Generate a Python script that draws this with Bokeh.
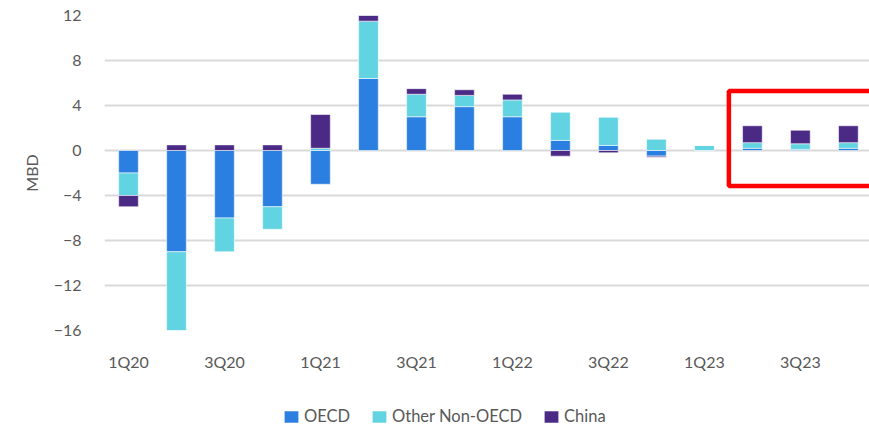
import numpy as np
from bokeh.plotting import figure
from bokeh.layouts import column
from bokeh.models import (ColumnDataSource, FixedTicker, Range1d, Legend, LegendItem,
                          BoxAnnotation)
from bokeh.embed import file_html
from bokeh.resources import INLINE

# ---- data (MBD, quarterly change) ----
quarters = ["1Q20", "2Q20", "3Q20", "4Q20", "1Q21", "2Q21", "3Q21", "4Q21",
            "1Q22", "2Q22", "3Q22", "4Q22", "1Q23", "2Q23", "3Q23", "4Q23"]
oecd = [-2.0, -9.0, -6.0, -5.0, -3.0, 6.4, 3.0, 3.9, 3.0, 0.9, 0.45, -0.5, 0.0, 0.2, 0.1, 0.2]
other_non_oecd = [-2.0, -7.0, -3.0, -2.0, 0.2, 5.1, 2.0, 1.0, 1.5, 2.5, 2.5, 1.0, 0.45, 0.5, 0.5, 0.5]
china = [-1.0, 0.5, 0.5, 0.5, 3.0, 0.5, 0.5, 0.5, 0.5, -0.5, -0.2, -0.1, 0.0, 1.5, 1.2, 1.5]
series_names = ["OECD", "Other Non-OECD", "China"]
series_colors = ["#2B7FE0", "#62D3E0", "#4B2A86"]
y_ticks = [-16, -12, -8, -4, 0, 4, 8, 12]
label_every = 2

# highlight box (data units)
hl_left, hl_right, hl_top, hl_bottom = 12.51, 16.5, 5.29, -3.16

FONT = "Lato"
GRAY = "#595959"

x = np.arange(len(quarters))
p = figure(width=869, height=395, output_backend="svg", toolbar_location=None,
           x_range=Range1d(-0.5, 15.44), y_range=Range1d(-16, 12),
           min_border_left=104, min_border_right=0, min_border_top=15, min_border_bottom=65)
p.outline_line_color = None
p.background_fill_color = "white"
p.border_fill_color = "white"

pos_base = np.zeros(len(x))
neg_base = np.zeros(len(x))
for name, vals, col in zip(series_names, [oecd, other_non_oecd, china], series_colors):
    v = np.array(vals, dtype=float)
    bottom = np.where(v >= 0, pos_base, neg_base)
    top = bottom + v
    pos_base = pos_base + np.clip(v, 0, None)
    neg_base = neg_base + np.clip(v, None, 0)
    src = ColumnDataSource(dict(x=x, bottom=bottom, top=top))
    p.vbar(x="x", bottom="bottom", top="top", width=0.41, source=src,
           fill_color=col, line_color="white", line_alpha=0.55, line_width=1)

# axes
p.xaxis.ticker = FixedTicker(ticks=list(x[::label_every]))
p.xaxis.major_label_overrides = {int(i): quarters[i] for i in x[::label_every]}
p.yaxis.ticker = FixedTicker(ticks=y_ticks)
for ax in (p.xaxis, p.yaxis):
    ax.axis_line_color = None
    ax.major_tick_line_color = None
    ax.minor_tick_line_color = None
    ax.major_tick_out = 0
    ax.major_tick_in = 0
    ax.major_label_text_font = FONT
    ax.major_label_text_font_size = "16px"
    ax.major_label_text_color = GRAY
p.xaxis.major_label_standoff = 21
p.yaxis.major_label_standoff = 23
p.yaxis.axis_label = "MBD"
p.yaxis.axis_label_text_font = FONT
p.yaxis.axis_label_text_font_size = "16px"
p.yaxis.axis_label_text_font_style = "normal"
p.yaxis.axis_label_text_color = GRAY
p.yaxis.axis_label_standoff = 10

p.xgrid.grid_line_color = None
p.ygrid.grid_line_color = "#D9D9D9"
p.ygrid.grid_line_width = 2

box = BoxAnnotation(left=hl_left, right=hl_right, top=hl_top, bottom=hl_bottom,
                    fill_alpha=0, line_color="#FF0000", line_alpha=1, line_width=4.5)
p.add_layout(box)

# ---- legend strip below the chart (proxy glyphs kept outside its visible range) ----
pl = figure(width=869, height=32, output_backend="svg", toolbar_location=None,
            x_axis_location=None, y_axis_location=None,
            x_range=Range1d(0, 1), y_range=Range1d(0, 1), min_border=0)
pl.outline_line_color = None
pl.xgrid.grid_line_color = None
pl.ygrid.grid_line_color = None
items = []
for name, col in zip(series_names, series_colors):
    r = pl.vbar(x=[-10], bottom=[-10], top=[-9], width=0.4, fill_color=col,
                line_color="white", line_alpha=0.55, line_width=1)
    items.append(LegendItem(label=name, renderers=[r]))
legend = Legend(items=items, orientation="horizontal", location=(178, 1),
                glyph_width=18, glyph_height=15, label_standoff=4, spacing=20,
                padding=0, margin=0, border_line_color=None, background_fill_alpha=0,
                label_text_font=FONT, label_text_font_size="16.5px", label_text_color=GRAY)
pl.add_layout(legend, "center")

layout = column(p, pl, spacing=0)
open("out.html", "w").write(file_html(layout, INLINE))
